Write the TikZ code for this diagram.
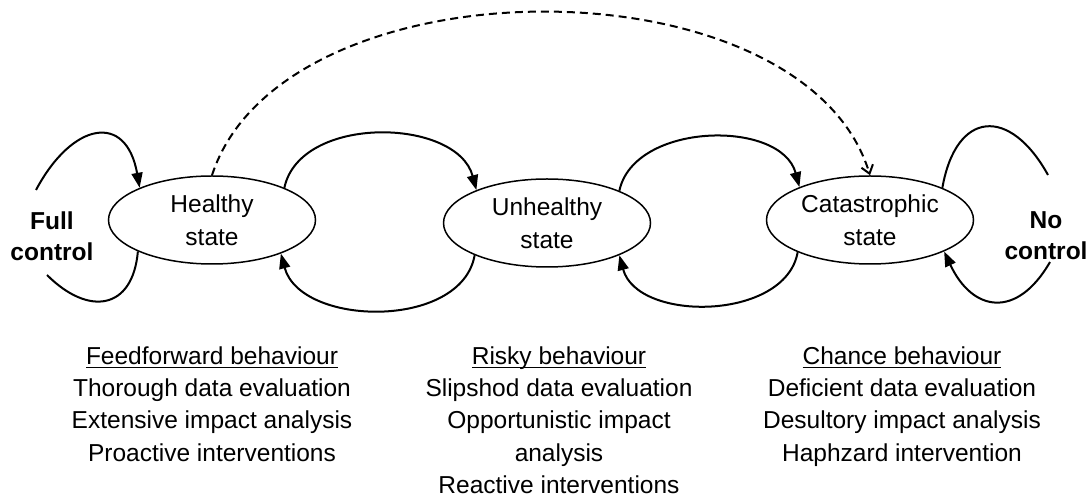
\documentclass[tikz,border=0pt]{standalone}
\usepackage{fontspec}
\setmainfont{Liberation Sans}
\usepackage{tikz}
\usetikzlibrary{positioning,arrows.meta,shapes.geometric}
\newcommand{\behav}[1]{\underline{\raisebox{0pt}[\height][0pt]{#1}}}

\begin{document}
\begin{tikzpicture}[x=0.5pt,y=0.5pt,
		every node/.style={font=\fontsize{12.25}{16.5}\selectfont},
		statebox/.style={draw=black, ellipse, line width=0.75pt, minimum width=103.5pt, minimum height=44pt, inner sep=0pt, align=center},
		link/.style={line width=1pt, -{Triangle[length=7.5pt,width=5.5pt]}},
		free/.style={line width=1pt},
		jump/.style={line width=1pt, dash pattern=on 4pt off 2.5pt, -{Straight Barb[length=4pt,width=6pt]}},
		behaviour/.style={align=center, anchor=north, inner sep=0pt, font=\fontsize{12.25}{16.2}\selectfont},
		ctrl/.style={font=\fontsize{12.25}{15.5}\selectfont\bfseries, align=center}]
		\useasboundingbox (0,0) rectangle (1090,502);
		
		\node[statebox] (healthy) at (212,282) {Healthy\\state};
		\node[statebox] (unhealthy) at (547,279) {Unhealthy\\state};
		\node[statebox] (catas) at (870,282) {Catastrophic\\state};
		
		\node[ctrl] (full) at (52,266) {Full\\control};
		\node[ctrl] (nocontrol) at (1046,266) {No\\control};
		
		\coordinate (fullin) at (36,312);
		\coordinate (fullout) at (47,227);
		\coordinate (noout) at (1048,327);
		\coordinate (noin) at (1050,240);
		
		\draw[link] (healthy.24) to[out=78,in=105] (unhealthy.155);
		\draw[link] (unhealthy.204) to[out=-100,in=-75] (healthy.334);
		\draw[link] (unhealthy.24) to[out=78,in=105] (catas.155);
		\draw[link] (catas.204) to[out=-100,in=-75] (unhealthy.336);
		
		\draw[link] (fullin) to[out=62,in=100,looseness=1.9] (healthy.156);
		\draw[free] (healthy.203) to[out=-95,in=-45,looseness=1.6] (fullout);
		\draw[free] (catas.24) to[out=80,in=119,looseness=1.9] (noout);
		\draw[link] (noin) to[out=-120,in=-65,looseness=1.6] (catas.337);
		
		\draw[jump] (healthy.north) to[out=72,in=107,looseness=0.89] (catas.north);
		
		\node[behaviour] (feed) at (212,156) {\behav{Feedforward behaviour}\\Thorough data evaluation\\Extensive impact analysis\\Proactive interventions};
		\node[behaviour] (risky) at (559,156) {\behav{Risky behaviour}\\Slipshod data evaluation\\Opportunistic impact\\analysis\\Reactive interventions};
		\node[behaviour] (chance) at (902,156) {\behav{Chance behaviour}\\Deficient data evaluation\\Desultory impact analysis\\Haphzard intervention};
	\end{tikzpicture}
\end{document}
